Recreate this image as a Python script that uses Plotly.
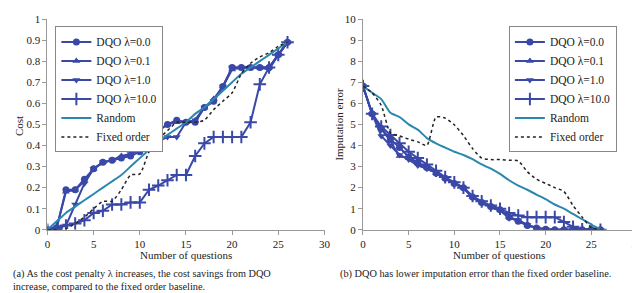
import plotly.graph_objects as go

questions = list(range(27))

# (a) Cost
cost_l0 = [0, 0.01, 0.19, 0.19, 0.24, 0.29, 0.32, 0.33, 0.34, 0.35, 0.37, 0.44, 0.47, 0.50, 0.52, 0.51, 0.51, 0.58, 0.61, 0.68, 0.77, 0.77, 0.77, 0.77, 0.77, 0.83, 0.89]
cost_l01 = [0, 0.01, 0.18, 0.19, 0.23, 0.29, 0.32, 0.33, 0.35, 0.36, 0.38, 0.43, 0.47, 0.50, 0.51, 0.51, 0.52, 0.58, 0.62, 0.68, 0.76, 0.77, 0.77, 0.77, 0.77, 0.83, 0.89]
cost_l1 = [0, 0.01, 0.02, 0.12, 0.22, 0.29, 0.32, 0.33, 0.34, 0.36, 0.38, 0.40, 0.42, 0.44, 0.44, 0.51, 0.52, 0.58, 0.61, 0.68, 0.77, 0.77, 0.77, 0.77, 0.76, 0.83, 0.89]
cost_l10 = [0, 0.01, 0.02, 0.03, 0.045, 0.08, 0.09, 0.12, 0.12, 0.13, 0.13, 0.19, 0.21, 0.235, 0.26, 0.26, 0.35, 0.41, 0.44, 0.44, 0.44, 0.44, 0.51, 0.69, 0.77, 0.83, 0.89]
cost_random = [0, 0.04, 0.08, 0.11, 0.14, 0.17, 0.20, 0.23, 0.26, 0.30, 0.34, 0.38, 0.42, 0.45, 0.48, 0.51, 0.55, 0.58, 0.62, 0.66, 0.70, 0.74, 0.77, 0.80, 0.83, 0.86, 0.89]
cost_fixed = [0, 0, 0.005, 0.03, 0.06, 0.10, 0.135, 0.135, 0.19, 0.26, 0.265, 0.37, 0.43, 0.47, 0.51, 0.51, 0.51, 0.52, 0.57, 0.61, 0.65, 0.74, 0.79, 0.82, 0.84, 0.87, 0.89]

# (b) Imputation error
err_l0 = [6.82, 5.5, 4.8, 4.3, 3.9, 3.45, 3.2, 2.95, 2.7, 2.45, 2.2, 2.0, 1.55, 1.3, 1.1, 0.95, 0.6, 0.4, 0.2, 0.08, 0.02, 0, 0, 0, 0, 0, 0]
err_l01 = [6.82, 5.5, 4.8, 4.2, 3.5, 3.4, 3.15, 2.95, 2.7, 2.45, 2.2, 2.0, 1.55, 1.3, 1.1, 0.95, 0.6, 0.45, 0.23, 0.09, 0.02, 0, 0, 0, 0, 0, 0]
err_l1 = [6.82, 5.5, 4.45, 4.0, 3.55, 3.33, 3.05, 2.9, 2.73, 2.42, 2.2, 1.97, 1.52, 1.29, 1.06, 0.91, 0.55, 0.45, 0.23, 0.09, 0.02, 0, 0, 0, 0, 0, 0]
err_l10 = [6.82, 5.5, 4.9, 4.5, 4.1, 3.7, 3.4, 3.1, 2.8, 2.5, 2.25, 2.0, 1.6, 1.35, 1.15, 1.0, 0.8, 0.68, 0.6, 0.6, 0.6, 0.6, 0.37, 0.14, 0.02, 0, 0]
err_random = [6.82, 6.5, 6.2, 5.55, 5.35, 5.0, 4.75, 4.35, 4.1, 3.9, 3.7, 3.55, 3.35, 3.1, 2.9, 2.65, 2.35, 2.1, 1.9, 1.67, 1.45, 1.2, 1.0, 0.75, 0.5, 0.25, 0.02]
err_fixed = [6.82, 6.5, 5.9, 4.6, 4.45, 4.3, 4.17, 4.0, 5.35, 5.3, 4.98, 4.47, 3.85, 3.4, 3.33, 3.33, 3.3, 3.27, 2.75, 2.4, 2.2, 2.0, 1.82, 1.15, 0.6, 0.1, 0.02]

names = ["DQO λ=0.0", "DQO λ=0.1", "DQO λ=1.0", "DQO λ=10.0", "Random", "Fixed order"]
y_ticks_cost = [0, 0.1, 0.2, 0.3, 0.4, 0.5, 0.6, 0.7, 0.8, 0.9, 1]
y_tick_text_cost = ["0", "0.1", "0.2", "0.3", "0.4", "0.5", "0.6", "0.7", "0.8", "0.9", "1"]
y_ticks_err = list(range(11))
x_ticks = [0, 5, 10, 15, 20, 25, 30]

BLUE = "#3a48a8"
TEAL = "#2a88b0"
FONT = "Liberation Serif"
TXT = "#222222"
symbols = ["circle", "triangle-up", "triangle-down", "cross-thin"]

fig = go.Figure()

def add_panel(series, rnd, fixed, xa, ya, legend):
    for name, ys, sym in zip(names[:4], series, symbols):
        mk = dict(symbol=sym, size=7, color=BLUE)
        if sym == "cross-thin":
            mk = dict(symbol=sym, size=9, color=BLUE, line=dict(color=BLUE, width=2))
        fig.add_trace(go.Scatter(x=questions, y=ys, name=name, mode="lines+markers",
                                 line=dict(color=BLUE, width=2), marker=mk,
                                 xaxis=xa, yaxis=ya, legend=legend))
    fig.add_trace(go.Scatter(x=questions, y=rnd, name=names[4], mode="lines",
                             line=dict(color=TEAL, width=2, shape="spline", smoothing=0.6),
                             xaxis=xa, yaxis=ya, legend=legend))
    fig.add_trace(go.Scatter(x=questions, y=fixed, name=names[5], mode="lines",
                             line=dict(color=TXT, width=1.5, dash="dot", shape="spline", smoothing=0.6),
                             xaxis=xa, yaxis=ya, legend=legend))

add_panel([cost_l0, cost_l01, cost_l1, cost_l10], cost_random, cost_fixed, "x", "y", "legend")
add_panel([err_l0, err_l01, err_l1, err_l10], err_random, err_fixed, "x2", "y2", "legend2")

axis_common = dict(showgrid=False, zeroline=False, showline=True, linecolor="#999999",
                   linewidth=1, ticks="outside", ticklen=4, tickcolor="#999999",
                   ticklabeloverflow="allow",
                   tickfont=dict(family=FONT, size=11, color=TXT))

y_bottom = 68 / 293
y_top = 288 / 293

fig.update_layout(
    width=640, height=293,
    margin=dict(l=0, r=0, t=0, b=0),
    paper_bgcolor="white", plot_bgcolor="white",
    font=dict(family=FONT, size=11, color=TXT),
    xaxis=dict(domain=[37 / 640, 318 / 640], range=[0, 30.01], tickvals=x_ticks,
               anchor="y", **axis_common),
    yaxis=dict(domain=[y_bottom, y_top], range=[0, 1.001], tickvals=y_ticks_cost, ticktext=y_tick_text_cost,
               anchor="x", **axis_common),
    xaxis2=dict(domain=[357 / 640, 635 / 640], range=[0, 30.01], tickvals=x_ticks,
                anchor="y2", **axis_common),
    yaxis2=dict(domain=[y_bottom, y_top], range=[0, 10.01], tickvals=y_ticks_err,
                anchor="x2", **axis_common),
    legend=dict(x=45 / 640, y=1 - 13 / 293, xanchor="left", yanchor="top",
                bordercolor="#888888", borderwidth=1, bgcolor="white",
                font=dict(family=FONT, size=11.5), tracegroupgap=0, itemwidth=30),
    legend2=dict(x=505 / 640, y=1 - 13 / 293, xanchor="left", yanchor="top",
                 bordercolor="#888888", borderwidth=1, bgcolor="white",
                 font=dict(family=FONT, size=11.5), tracegroupgap=0, itemwidth=30),
    showlegend=True,
)

# axis titles
for text, xpx, ypx in [("Number of questions", 178, 251), ("Number of questions", 495, 251)]:
    fig.add_annotation(text=text, x=xpx / 640, y=1 - ypx / 293, xref="paper", yref="paper",
                       xanchor="center", yanchor="middle", showarrow=False,
                       font=dict(family=FONT, size=11, color=TXT))
for text, xpx, ypx in [("Cost", 8, 117), ("Imputation error", 333, 115)]:
    fig.add_annotation(text=text, x=xpx / 640, y=1 - ypx / 293, xref="paper", yref="paper",
                       xanchor="center", yanchor="middle", showarrow=False, textangle=-90,
                       font=dict(family=FONT, size=11, color=TXT))

captions = [
    ("(a) As the cost penalty λ increases, the cost savings from DQO<br>increase, compared to the fixed order baseline.", 0),
    ("(b) DQO has lower imputation error than the fixed order baseline.", 332),
]
for text, xpx in captions:
    fig.add_annotation(text=text, x=xpx / 640, y=1 - 263 / 293, xref="paper", yref="paper",
                       xanchor="left", yanchor="top", showarrow=False, align="left",
                       font=dict(family=FONT, size=10.3, color=TXT))

fig.write_html("out.html")
